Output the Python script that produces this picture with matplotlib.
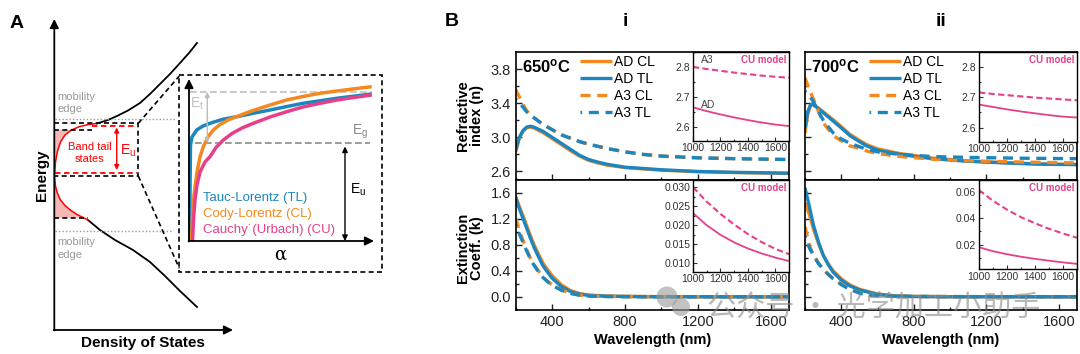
import matplotlib
matplotlib.use("Agg")
import matplotlib.pyplot as plt
from matplotlib.ticker import FixedLocator, MultipleLocator, FormatStrFormatter
from matplotlib.patches import Rectangle, Circle

plt.rcParams["font.family"] = ["Liberation Sans", "DejaVu Sans"]
plt.rcParams["mathtext.fontset"] = "custom"
plt.rcParams["mathtext.rm"] = "Liberation Sans"
plt.rcParams["mathtext.it"] = "Liberation Sans:italic"
plt.rcParams["mathtext.bf"] = "Liberation Sans:bold"

ORANGE = "#F5891F"
BLUE = "#1C86BF"
PINK = "#E5408A"

# ---------------- panel A schematic (pixel coordinates) ----------------
UP_BAND_X = [97, 108, 117, 128, 140, 150, 160, 170, 180, 189, 197]
UP_BAND_Y = [123.5, 120, 116, 110.5, 103, 94, 84, 74, 63, 53, 43]
LOW_BAND_X = [88, 100, 115, 133, 150, 165, 180, 197]
LOW_BAND_Y = [220, 230, 240, 250, 262, 276, 291, 307]
TAIL_UP_X = [54.5, 55.5, 57.5, 60.5, 65, 71.5, 79, 88, 97]
TAIL_UP_Y = [175, 162, 151, 142, 135, 130, 126.8, 124.6, 123.5]
TAIL_LOW_X = [54.5, 55.5, 57.3, 60.5, 65, 71, 77, 83, 88]
TAIL_LOW_Y = [177, 186, 193, 200, 205.5, 210.5, 214.5, 217.5, 220]

TL_X = [190, 190, 190.5, 192, 196.7, 203, 210, 222, 236.7, 253, 270, 287, 303, 320, 336.7, 355, 371.7]
TL_Y = [241, 190, 145, 137, 130, 126, 123.3, 119.5, 116.7, 113.3, 110, 106.5, 103.3, 100.8, 98.3, 96, 94]
CL_X = [191.5, 192.5, 194, 197, 200, 203.3, 208, 213.3, 220, 228, 236.7, 246, 256.7, 270, 286.7, 303, 320, 337, 355, 371.7]
CL_Y = [241, 215, 195, 172, 157, 146.7, 137, 130, 124.5, 120, 116.7, 113, 109.3, 105, 100, 96.5, 93.3, 91, 88.7, 86.7]
CU_X = [192.5, 193.5, 195, 197, 200, 205, 210, 216, 223.3, 232, 242, 253.3, 270, 286.7, 303, 320, 337, 355, 371.7]
CU_Y = [241, 220, 200, 185, 172, 162, 156.7, 147.5, 140, 133.5, 128, 123.3, 117, 111.7, 107, 103.3, 100, 97.3, 95]

# ---------------- panel B data ----------------
# column i (650 C)
WL_N1_A3 = [200, 230, 260, 300, 350, 400, 450, 500, 550, 600, 700, 800, 900, 1000, 1200, 1400, 1700]
N1_A3_CL = [3.56, 3.43, 3.31, 3.23, 3.15, 3.09, 3.03, 2.99, 2.95, 2.92, 2.87, 2.83, 2.80, 2.78, 2.76, 2.75, 2.74]
N1_A3_TL = [3.45, 3.38, 3.30, 3.23, 3.15, 3.09, 3.03, 2.99, 2.95, 2.92, 2.87, 2.83, 2.80, 2.78, 2.76, 2.75, 2.74]
WL_N1_AD = [200, 220, 240, 260, 280, 300, 350, 400, 450, 500, 550, 600, 650, 700, 800, 900, 1000, 1200, 1400, 1700]
N1_AD_CL = [2.83, 2.99, 3.07, 3.11, 3.12, 3.11, 3.055, 2.985, 2.915, 2.845, 2.78, 2.73, 2.70, 2.675, 2.645, 2.63, 2.615, 2.597, 2.587, 2.577]
N1_AD_TL = [2.85, 3.00, 3.08, 3.12, 3.13, 3.12, 3.07, 3.00, 2.93, 2.86, 2.79, 2.74, 2.71, 2.685, 2.65, 2.635, 2.62, 2.60, 2.59, 2.58]

WL_K1 = [200, 220, 240, 260, 280, 300, 325, 350, 375, 400, 450, 500, 550, 600, 700, 800, 1000, 1700]
K1_AD_CL = [1.55, 1.39, 1.25, 1.10, 0.95, 0.81, 0.66, 0.52, 0.42, 0.33, 0.19, 0.10, 0.055, 0.03, 0.015, 0.01, 0.006, 0.003]
K1_AD_TL = [1.53, 1.36, 1.21, 1.06, 0.91, 0.77, 0.62, 0.48, 0.38, 0.29, 0.16, 0.085, 0.045, 0.025, 0.012, 0.008, 0.004, 0.002]
K1_A3_CL = [1.21, 1.02, 0.87, 0.73, 0.60, 0.50, 0.40, 0.31, 0.24, 0.19, 0.11, 0.06, 0.03, 0.015, 0.008, 0.006, 0.004, 0.003]
K1_A3_TL = [1.11, 0.97, 0.84, 0.71, 0.59, 0.49, 0.39, 0.30, 0.235, 0.18, 0.105, 0.055, 0.028, 0.014, 0.007, 0.005, 0.004, 0.003]

# column ii (700 C)
WL_N2_A3 = [200, 220, 246, 275, 301, 330, 356, 400, 448, 500, 540, 600, 724, 900, 1100, 1400, 1700]
N2_A3_CL = [3.70, 3.58, 3.45, 3.30, 3.17, 3.09, 3.02, 2.96, 2.90, 2.87, 2.84, 2.81, 2.775, 2.745, 2.725, 2.71, 2.70]
N2_A3_TL = [3.54, 3.50, 3.42, 3.30, 3.20, 3.12, 3.05, 2.98, 2.93, 2.89, 2.86, 2.83, 2.80, 2.775, 2.765, 2.755, 2.75]
WL_N2_AD = [200, 215, 230, 240, 260, 300, 356, 400, 448, 500, 540, 600, 724, 900, 1092, 1300, 1500, 1700]
N2_AD_CL = [3.05, 3.27, 3.37, 3.385, 3.365, 3.30, 3.205, 3.125, 3.035, 2.965, 2.915, 2.865, 2.81, 2.757, 2.725, 2.703, 2.688, 2.682]
N2_AD_TL = [3.11, 3.30, 3.38, 3.39, 3.36, 3.29, 3.19, 3.11, 3.02, 2.95, 2.90, 2.85, 2.80, 2.75, 2.72, 2.70, 2.685, 2.68]

WL_K2 = [200, 225, 246, 275, 301, 330, 356, 400, 448, 500, 540, 600, 700, 800, 1000, 1700]
K2_AD_CL = [1.45, 1.26, 1.05, 0.82, 0.64, 0.50, 0.40, 0.28, 0.185, 0.12, 0.09, 0.045, 0.018, 0.009, 0.005, 0.003]
K2_AD_TL = [1.68, 1.38, 1.11, 0.84, 0.64, 0.49, 0.38, 0.26, 0.17, 0.11, 0.08, 0.04, 0.015, 0.008, 0.004, 0.002]
K2_A3_CL = [1.08, 0.78, 0.66, 0.52, 0.42, 0.34, 0.28, 0.20, 0.12, 0.065, 0.035, 0.02, 0.012, 0.008, 0.006, 0.005]
K2_A3_TL = [0.93, 0.75, 0.64, 0.51, 0.43, 0.345, 0.28, 0.19, 0.115, 0.06, 0.032, 0.018, 0.011, 0.008, 0.006, 0.005]

# CU model insets
WL_CU = [1000, 1100, 1200, 1300, 1400, 1500, 1600, 1700]
CU1_N_A3 = [2.800, 2.793, 2.787, 2.781, 2.776, 2.771, 2.767, 2.764]
CU1_N_AD = [2.665, 2.652, 2.641, 2.631, 2.622, 2.614, 2.607, 2.602]
CU1_K_A3 = [0.0300, 0.0262, 0.0230, 0.0202, 0.0177, 0.0156, 0.0138, 0.0124]
CU1_K_AD = [0.0232, 0.0200, 0.0175, 0.0155, 0.0139, 0.0126, 0.0115, 0.0106]
CU2_N_A3 = [2.716, 2.711, 2.707, 2.703, 2.699, 2.696, 2.693, 2.690]
CU2_N_AD = [2.676, 2.668, 2.660, 2.653, 2.647, 2.641, 2.636, 2.633]
CU2_K_A3 = [0.0613, 0.0532, 0.0465, 0.0408, 0.0362, 0.0320, 0.0284, 0.0252]
CU2_K_AD = [0.0180, 0.0150, 0.0127, 0.0108, 0.0092, 0.0078, 0.0065, 0.0054]

W, H = 1080, 354
fig = plt.figure(figsize=(W / 100, H / 100), dpi=100)


def px_axes(left, top, right, bottom):
    return fig.add_axes([left / W, 1 - bottom / H, (right - left) / W, (bottom - top) / H])


def style_main(ax, ylo, yhi, major, minor, xlabels, ylabels):
    ax.set_xlim(200, 1700)
    ax.set_ylim(ylo, yhi)
    ax.xaxis.set_major_locator(MultipleLocator(400))
    ax.xaxis.set_minor_locator(MultipleLocator(200))
    ax.yaxis.set_major_locator(FixedLocator(major))
    ax.yaxis.set_minor_locator(FixedLocator(minor))
    ax.yaxis.set_major_formatter(FormatStrFormatter("%.1f"))
    ax.tick_params(which="both", direction="in", width=1, labelsize=10.5, colors="#222")
    ax.tick_params(which="major", length=4)
    ax.tick_params(which="minor", length=2.5)
    ax.tick_params(labelbottom=xlabels, labelleft=ylabels)
    for sp in ax.spines.values():
        sp.set_linewidth(1.2)


def style_inset(ax, ylo, yhi, yticks, yminor, fmt):
    ax.set_xlim(1000, 1700)
    ax.set_ylim(ylo, yhi)
    ax.xaxis.set_major_locator(FixedLocator([1000, 1200, 1400, 1600]))
    ax.xaxis.set_minor_locator(MultipleLocator(100))
    ax.yaxis.set_major_locator(FixedLocator(yticks))
    ax.yaxis.set_minor_locator(MultipleLocator(yminor))
    ax.yaxis.set_major_formatter(FormatStrFormatter(fmt))
    ax.tick_params(which="both", direction="in", width=0.8, labelsize=7.5, colors="#333", pad=2)
    ax.tick_params(which="major", length=3)
    ax.tick_params(which="minor", length=1.5)
    for sp in ax.spines.values():
        sp.set_linewidth(1)
    ax.text(0.97, 0.97, "CU model", transform=ax.transAxes, ha="right", va="top",
            color=PINK, fontsize=7, fontweight="bold")


LW = 2.4
DASH_CL = (0, (3, 2))
DASH_TL = (2.5, (3, 2))

# ---------- column i ----------
ax_n1 = px_axes(515.7, 52, 789, 180)
ax_k1 = px_axes(515.7, 180, 789, 310)
ax_n2 = px_axes(805, 52, 1077, 180)
ax_k2 = px_axes(805, 180, 1077, 310)

for ax, wl_ad, ad_cl, ad_tl, wl_a3, a3_cl, a3_tl in [
    (ax_n1, WL_N1_AD, N1_AD_CL, N1_AD_TL, WL_N1_A3, N1_A3_CL, N1_A3_TL),
    (ax_n2, WL_N2_AD, N2_AD_CL, N2_AD_TL, WL_N2_A3, N2_A3_CL, N2_A3_TL),
    (ax_k1, WL_K1, K1_AD_CL, K1_AD_TL, WL_K1, K1_A3_CL, K1_A3_TL),
    (ax_k2, WL_K2, K2_AD_CL, K2_AD_TL, WL_K2, K2_A3_CL, K2_A3_TL),
]:
    ax.plot(wl_ad, ad_cl, color=ORANGE, lw=LW, label="AD CL", solid_capstyle="butt")
    ax.plot(wl_ad, ad_tl, color=BLUE, lw=LW, label="AD TL", solid_capstyle="butt")
    ax.plot(wl_a3, a3_cl, color=ORANGE, lw=LW, ls=DASH_CL, label="A3 CL")
    ax.plot(wl_a3, a3_tl, color=BLUE, lw=LW, ls=DASH_TL, label="A3 TL")

style_main(ax_n1, 2.5, 4.0, [2.6, 3.0, 3.4, 3.8], [2.8, 3.2, 3.6], False, True)
style_main(ax_n2, 2.5, 4.0, [2.6, 3.0, 3.4, 3.8], [2.8, 3.2, 3.6], False, False)
style_main(ax_k1, -0.2, 1.8, [0.0, 0.4, 0.8, 1.2, 1.6], [0.2, 0.6, 1.0, 1.4], True, True)
style_main(ax_k2, -0.2, 1.8, [0.0, 0.4, 0.8, 1.2, 1.6], [0.2, 0.6, 1.0, 1.4], True, False)

for ax, temp in [(ax_n1, "650$^{\\mathbf{o}}$C"), (ax_n2, "700$^{\\mathbf{o}}$C")]:
    ax.text(0.022, 0.885, temp, transform=ax.transAxes, fontsize=12, fontweight="bold", va="center")
    ax.legend(loc="upper left", bbox_to_anchor=(0.235, 0.975), frameon=False, fontsize=10,
              handlelength=2.3, handletextpad=0.15, labelspacing=0.2, borderpad=0, borderaxespad=0)

for ax in [ax_k1, ax_k2]:
    ax.set_xlabel("Wavelength (nm)", fontsize=10.5, fontweight="bold", labelpad=3)

fig.text(470 / W, 1 - 116 / H, "Refractive\nindex (n)", rotation=90, ha="center", va="center",
         fontsize=10.5, fontweight="bold", linespacing=1.05)
fig.text(470 / W, 1 - 248 / H, "Extinction\nCoeff. (k)", rotation=90, ha="center", va="center",
         fontsize=10.5, fontweight="bold", linespacing=1.05)

# insets
in_n1 = px_axes(693, 52, 789, 140.7)
in_k1 = px_axes(693, 180, 789, 271.7)
in_n2 = px_axes(979, 52, 1077, 141.7)
in_k2 = px_axes(979, 180, 1077, 269)
for ax, a3, ad in [(in_n1, CU1_N_A3, CU1_N_AD), (in_k1, CU1_K_A3, CU1_K_AD),
                   (in_n2, CU2_N_A3, CU2_N_AD), (in_k2, CU2_K_A3, CU2_K_AD)]:
    ax.plot(WL_CU, a3, color=PINK, lw=1.5, ls=(0, (3, 1.6)))
    ax.plot(WL_CU, ad, color=PINK, lw=1.3)
style_inset(in_n1, 2.553, 2.85, [2.6, 2.7, 2.8], 0.05, "%.1f")
style_inset(in_n2, 2.553, 2.85, [2.6, 2.7, 2.8], 0.05, "%.1f")
style_inset(in_k1, 0.0078, 0.0319, [0.010, 0.015, 0.020, 0.025, 0.030], 0.0025, "%.3f")
style_inset(in_k2, 0.0015, 0.069, [0.02, 0.04, 0.06], 0.01, "%.2f")
in_n1.text(0.083, 0.91, "A3", transform=in_n1.transAxes, fontsize=7.5, color="#444", va="center")
in_n1.text(0.083, 0.40, "AD", transform=in_n1.transAxes, fontsize=7.5, color="#444", va="center")

# ---------- overlay in pixel coords: panel A, headers, watermark ----------
ov = fig.add_axes([0, 0, 1, 1])
ov.set_xlim(0, W)
ov.set_ylim(H, 0)
ov.axis("off")
ov.patch.set_visible(False)

arrow_k = dict(arrowstyle="-|>", color="black", lw=1.3, mutation_scale=13, shrinkA=0, shrinkB=0)
ov.annotate("", xy=(54.3, 19), xytext=(54.3, 330.5), arrowprops=arrow_k)
ov.annotate("", xy=(233, 330), xytext=(53.7, 330), arrowprops=arrow_k)

ov.plot(UP_BAND_X, UP_BAND_Y, color="black", lw=1.3)
ov.plot(LOW_BAND_X, LOW_BAND_Y, color="black", lw=1.3)
ov.fill(TAIL_UP_X[:6] + [54.3], TAIL_UP_Y[:6] + [130], color="#F7B7B7", lw=0)
ov.fill(TAIL_LOW_X[:8] + [54.3], TAIL_LOW_Y[:8] + [218.3], color="#F7B7B7", lw=0)
ov.plot(TAIL_UP_X, TAIL_UP_Y, color="red", lw=1.1)
ov.plot(TAIL_LOW_X, TAIL_LOW_Y, color="red", lw=1.1)

dot = dict(color="#9a9a9a", lw=1, ls=(0, (1, 1.5)))
ov.plot([55, 175], [119, 119], **dot)
ov.plot([55, 172], [230.7, 230.7], **dot)
dk = dict(color="black", lw=1.2, ls=(0, (3, 2)))
ov.plot([54.3, 138.3, 138.3, 54.3], [123.3, 123.3, 176, 176], **dk)
ov.plot([54.3, 92], [130, 130], **dk)
ov.plot([54.3, 88], [218.3, 218.3], **dk)
ov.plot([138.3, 179.3], [123.3, 76], **dk)
ov.plot([138.3, 179.3], [176, 268.3], **dk)
dr = dict(color="red", lw=1.3, ls=(0, (3, 2)))
ov.plot([92, 137], [125.5, 125.5], **dr)
ov.plot([55, 137], [172.5, 172.5], **dr)
ov.add_patch(Rectangle((179.3, 75), 203, 196.7, fill=False, ec="black", lw=1.2, ls=(0, (3, 2))))

ov.annotate("", xy=(116.7, 127.5), xytext=(116.7, 170),
            arrowprops=dict(arrowstyle="<|-|>", color="red", lw=1, mutation_scale=7, shrinkA=0, shrinkB=0))
ov.text(90, 153, "Band tail\nstates", color="red", fontsize=8, ha="center", va="center", linespacing=1.35)
ov.text(120.5, 150.5, "E$_{\\rm u}$", color="red", fontsize=10, va="center")
for yy in (96.7, 242.3):
    ov.text(57.7, yy, "mobility", color="#9a9a9a", fontsize=8, va="center")
    ov.text(57.7, yy + 12.8, "edge", color="#9a9a9a", fontsize=8, va="center")
ov.text(17, 24, "A", fontsize=14, fontweight="bold", ha="center", va="center")
ov.text(41.5, 175, "Energy", fontsize=11, fontweight="bold", rotation=90, ha="center", va="center")
ov.text(143, 343, "Density of States", fontsize=11, fontweight="bold", ha="center", va="center")

# zoomed inset of panel A
ov.annotate("", xy=(189, 79), xytext=(189, 241.5), arrowprops=arrow_k)
ov.annotate("", xy=(374, 241), xytext=(188.5, 241), arrowprops=arrow_k)
ov.plot([190, 371.7], [91.7, 91.7], color="#c0c0c0", lw=1.2, ls=(0, (4, 2)))
ov.plot([195, 370], [143.3, 143.3], color="#8a8a8a", lw=1.2, ls=(0, (4, 2)))
ov.annotate("", xy=(207.3, 92), xytext=(207.3, 143),
            arrowprops=dict(arrowstyle="<|-|>", color="#bdbdbd", lw=1, mutation_scale=7, shrinkA=0, shrinkB=0))
ov.annotate("", xy=(345, 146.5), xytext=(345, 241),
            arrowprops=dict(arrowstyle="<|-|>", color="black", lw=1, mutation_scale=8, shrinkA=0, shrinkB=0))
ov.plot(TL_X, TL_Y, color=BLUE, lw=2.5, solid_capstyle="butt")
ov.plot(CL_X, CL_Y, color=ORANGE, lw=2.5, solid_capstyle="butt")
ov.plot(CU_X, CU_Y, color=PINK, lw=2.5, solid_capstyle="butt")
ov.text(190, 104, "E$_{\\rm t}$", color="#c0c0c0", fontsize=10, va="center")
ov.text(352, 132, "E$_{\\rm g}$", color="#8a8a8a", fontsize=10, va="center")
ov.text(350, 190, "E$_{\\rm u}$", color="black", fontsize=10, va="center")
ov.text(203.3, 198.3, "Tauc-Lorentz (TL)", color=BLUE, fontsize=9.5, va="center")
ov.text(203.3, 213.8, "Cody-Lorentz (CL)", color=ORANGE, fontsize=9.5, va="center")
ov.text(203.3, 229.5, "Cauchy˙(Urbach) (CU)", color=PINK, fontsize=9.5, va="center")
ov.text(280, 255, "α", fontsize=13, family="DejaVu Serif", ha="center", va="center")

# panel B headers
ov.text(452, 22, "B", fontsize=14, fontweight="bold", ha="center", va="center")
ov.text(625, 22, "i", fontsize=14, fontweight="bold", ha="center", va="center")
ov.text(941, 22, "ii", fontsize=14, fontweight="bold", ha="center", va="center")

# watermark
ov.add_patch(Circle((667, 297), 10.5, color="#9a9a9a", alpha=0.6, lw=0))
ov.add_patch(Circle((681, 307), 9, color="#9a9a9a", alpha=0.6, lw=0))
ov.text(707, 308, "公众号 · 光学加工小助手", fontsize=21, color="#8a8a8a", alpha=0.6,
        family=["Noto Sans CJK SC", "DejaVu Sans"], va="center")

fig.savefig("out.png", dpi=100)
